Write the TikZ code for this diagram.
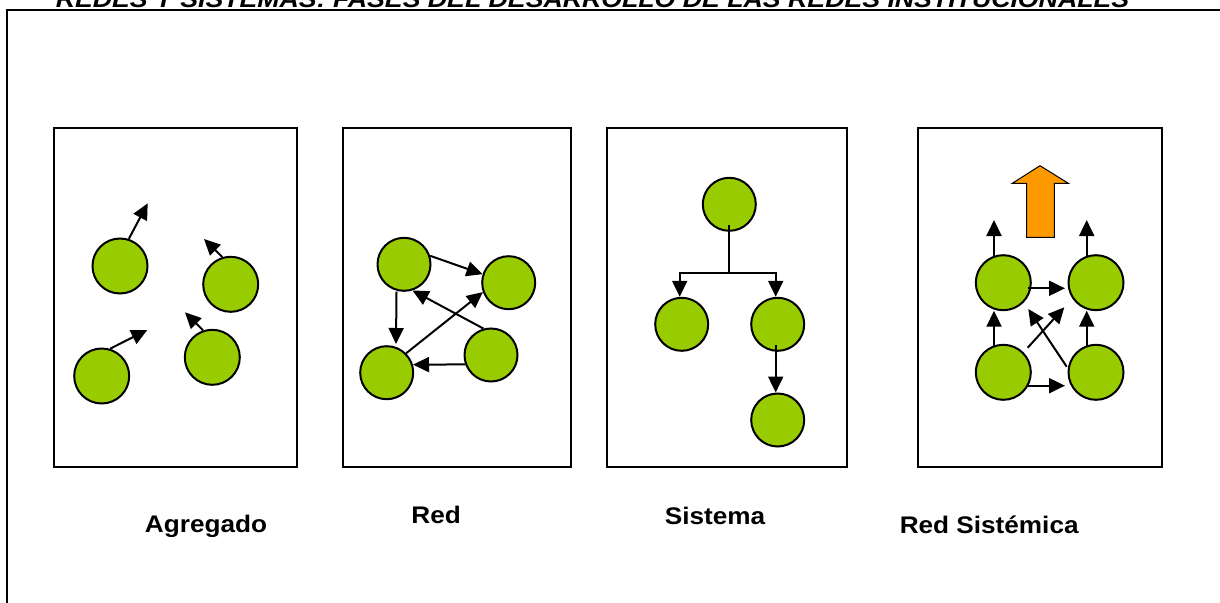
\documentclass[tikz,border=0pt]{standalone}
\usepackage{fontspec}
\setmainfont{Liberation Sans}
\usetikzlibrary{arrows.meta,calc}
\definecolor{ballgreen}{HTML}{99CC00}
\definecolor{uporange}{HTML}{FF9900}
\begin{document}
\begin{tikzpicture}[x=1pt,y=-1pt,
  ball/.style={circle,draw=black,fill=ballgreen,line width=2pt,minimum size=#1,inner sep=0pt},
  ball/.default=54pt,
  panel/.style={draw=black,line width=1.8pt},
  arr/.style={line width=2pt,-{Triangle[length=16pt,width=15pt]}},
  plain/.style={line width=2pt},
  lab/.style={font=\fontsize{24}{28}\selectfont\bfseries,xscale=1.09,anchor=base,inner sep=0pt},
  ]
\useasboundingbox (0,0) rectangle (1220,602);
% outer frame and title
\draw[line width=2.2pt] (7,620) -- (7,10) -- (1230,10);
\node[lab,xscale=1.02,font=\fontsize{24}{28}\selectfont\bfseries\itshape] (title) at (592.5,7.5)
  {REDES Y SISTEMAS: FASES DEL DESARROLLO DE LAS REDES INSTITUCIONALES};

% panels
\draw[panel] (54,128) rectangle (297,467);
\draw[panel] (343,128) rectangle (571,467);
\draw[panel] (607,128) rectangle (847,467);
\draw[panel] (918,128) rectangle (1162,467);

% ---- Agregado
\node[ball=55pt] (a1) at (120,266) {};
\node[ball=55pt] (a2) at (230.7,284.3) {};
\node[ball=55pt] (a3) at (101.7,376) {};
\node[ball=55pt] (a4) at (212.3,357.3) {};
\coordinate (a1t) at (147.7,203.3);
\coordinate (a2t) at (204,239);
\coordinate (a3t) at (147.3,330);
\coordinate (a4t) at (185,312.3);
\draw[arr] (a1.72) -- (a1t);
\draw[arr] (a2.107) -- (a2t);
\draw[arr] (a3.73) -- (a3t);
\draw[arr] (a4.109) -- (a4t);

% ---- Red
\node[ball=53pt] (rA) at (404,264.3) {};
\node[ball=53pt] (rB) at (508.7,282.7) {};
\node[ball=53pt] (rC) at (386.7,372.7) {};
\node[ball=53pt] (rD) at (491,355) {};
\draw[arr] (rA.18) -- (rB.162);
\draw[arr] ($(rA)+(-7.5,27.4)$) -- ($(rC)+(9.3,-28.7)$);
\draw[arr] (rD.106) -- (rA.-72);
\draw[arr] (rC.45) -- (rB.200);
\draw[arr] (rD.200) -- (rC.17);

% ---- Sistema
\node[ball=53pt] (sT) at (729.3,204.3) {};
\node[ball=53pt] (sL) at (681.7,324.3) {};
\node[ball=53pt] (sR) at (777.7,324.3) {};
\node[ball=53pt] (sB) at (777.7,420) {};
\coordinate (sj) at (729.3,273.3);
\draw[plain] ($(sT)+(0,21)$) -- (sj);
\draw[arr] (sj) -| ($(sL.north)+(-2,0)$);
\draw[arr] (sj) -| ($(sR.north)+(-2,0)$);
\draw[arr] ($(sR)+(-2,21)$) -- ($(sB.north)+(-2,0)$);

% ---- Red Sistemica
\draw[fill=uporange,line width=1pt] (1040,165.7) -- (1068.3,183.3) -- (1054.3,183.3)
  -- (1054.3,237.3) -- (1026.7,237.3) -- (1026.7,183.3) -- (1012.3,183.3) -- cycle;
\node[ball=55pt] (nTL) at (1003.3,282.7) {};
\node[ball=55pt] (nTR) at (1096,282.7) {};
\node[ball=55pt] (nBL) at (1003.3,372.3) {};
\node[ball=55pt] (nBR) at (1096,372.3) {};
\draw[arr] ($(nTL)+(-9.3,-26.7)$) -- ++(0,-36) coordinate (nTLup);
\draw[arr] ($(nTR)+(-9.3,-26.7)$) -- ++(0,-36) coordinate (nTRup);
\draw[arr] ($(nTL)+(24.4,5.6)$) -- ($(nTR)+(-31,5.6)$);
\draw[arr] ($(nBL)+(-9.3,-25.6)$) -- ($(nTL)+(-9.3,28)$);
\draw[arr] ($(nBR)+(-9.3,-25.6)$) -- ($(nTR)+(-9.3,28)$);
\draw[arr] ($(nBL)+(24.4,-24.6)$) -- ($(nTR)+(-31.7,24.6)$);
\draw[arr] ($(nBR)+(-29.3,-5.6)$) -- ($(nTL)+(25,26.3)$);
\draw[arr] ($(nBL)+(24.4,13.4)$) -- ($(nBR)+(-31,13.4)$);

% labels
\node[lab] (l1) at (206,532.3) {Agregado};
\node[lab] (l2) at (436.2,523.3) {Red};
\node[lab] (l3) at (715,524.3) {Sistema};
\node[lab] (l4) at (989.2,533.3) {Red Sistémica};
\end{tikzpicture}
\end{document}
